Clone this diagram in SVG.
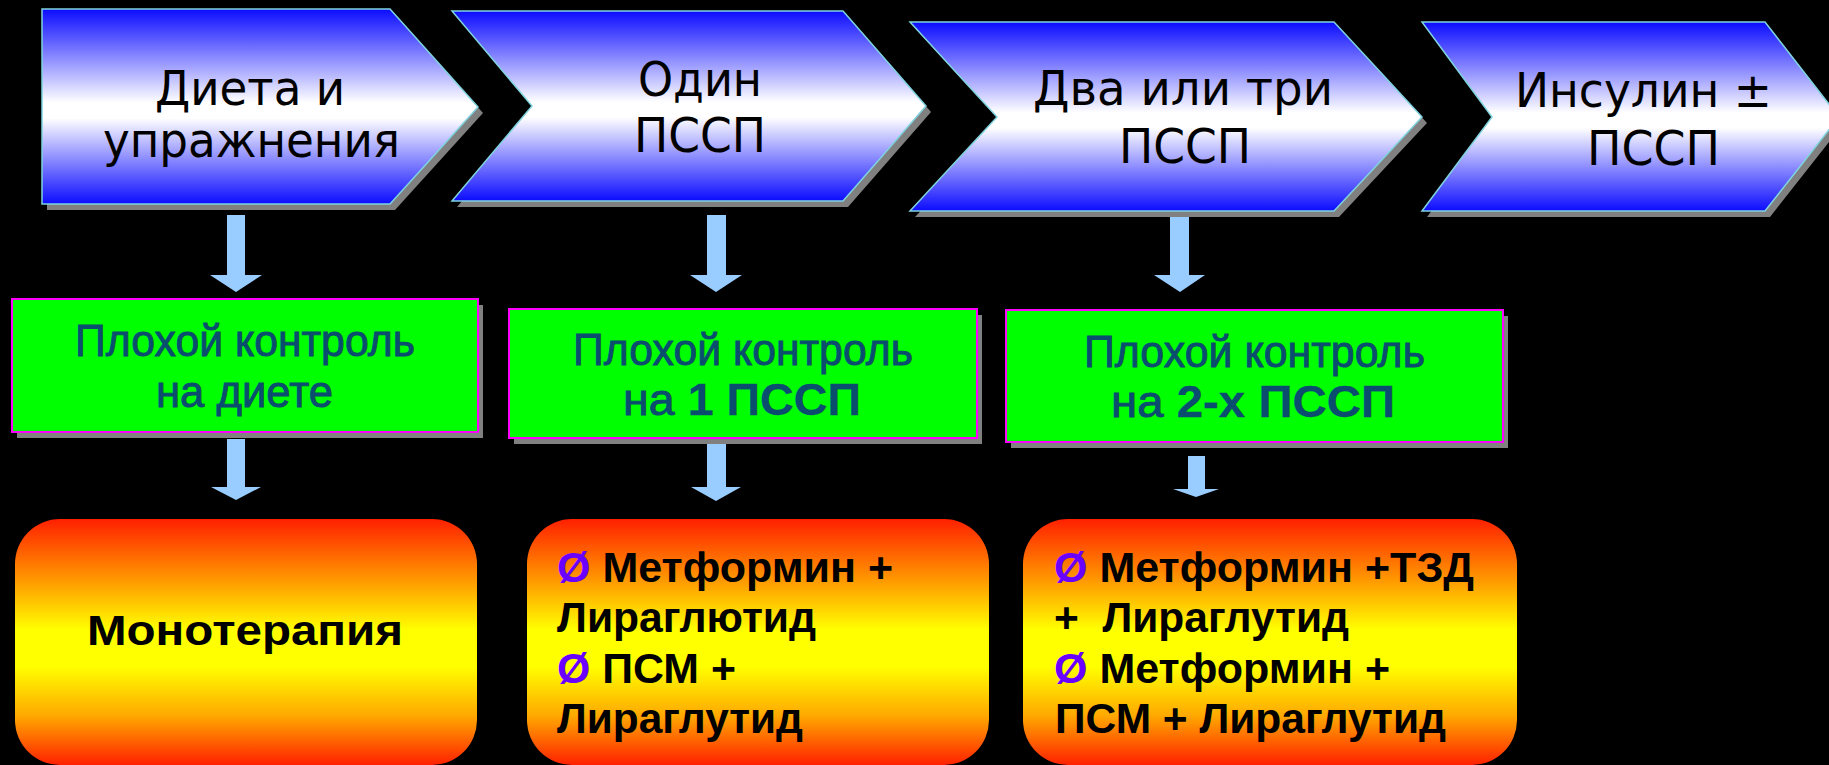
<svg xmlns="http://www.w3.org/2000/svg" width="1829" height="765" viewBox="0 0 1829 765">
  <defs>
    <linearGradient id="gBlue" x1="0" y1="0" x2="0" y2="1">
      <stop offset="0" stop-color="#0c0cff"/>
      <stop offset="0.48" stop-color="#ffffff"/>
      <stop offset="0.56" stop-color="#ffffff"/>
      <stop offset="1" stop-color="#0c0cff"/>
    </linearGradient>
    <linearGradient id="gFire" x1="0" y1="0" x2="0" y2="1">
      <stop offset="0" stop-color="#ff2000"/>
      <stop offset="0.28" stop-color="#ffa800"/>
      <stop offset="0.45" stop-color="#ffff00"/>
      <stop offset="0.6" stop-color="#ffff00"/>
      <stop offset="0.8" stop-color="#ffa800"/>
      <stop offset="1" stop-color="#ff2000"/>
    </linearGradient>
  </defs>
  <style>
    .shadow { fill: #808080; }
    .chev { fill: url(#gBlue); stroke: #7fd3de; stroke-width: 1.5; }
    .chevText { font-family: "DejaVu Sans", "Liberation Sans", sans-serif; font-size: 48px; fill: #000000; }
    .green { fill: #00ff00; stroke: #ff00ff; stroke-width: 2; }
    .greenText { font-family: "Liberation Sans", Arial, sans-serif; font-size: 45px; fill: #0a4d6e; stroke: #0a4d6e; stroke-width: 0.9; }
    .b { font-weight: bold; stroke-width: 0.3; }
    .fire { fill: url(#gFire); }
    .fireText { font-family: "Liberation Sans", Arial, sans-serif; font-size: 42px; font-weight: bold; fill: #000000; }
    .bullet { fill: #6a00ff; }
    .arrow { fill: #99ccff; }
  </style>

  <rect x="0" y="0" width="1829" height="765" fill="#000000"/>

  <!-- stage chevrons -->
  <g id="stage-diet">
    <polygon class="shadow" points="47,15 395,15 483,113 395,210 47,210"/>
    <polygon class="chev" points="42,9 390,9 478,107 390,204 42,204"/>
    <text class="chevText" x="155" y="105" textLength="190" lengthAdjust="spacingAndGlyphs">Диета и</text>
    <text class="chevText" x="103" y="157" textLength="297" lengthAdjust="spacingAndGlyphs">упражнения</text>
  </g>
  <g id="stage-one">
    <polygon class="shadow" points="457,17 848,17 931,112 848,207 457,207 537,112"/>
    <polygon class="chev" points="452,11 843,11 926,106 843,201 452,201 532,106"/>
    <text class="chevText" x="638" y="96" textLength="124" lengthAdjust="spacingAndGlyphs">Один</text>
    <text class="chevText" x="634" y="152" textLength="132" lengthAdjust="spacingAndGlyphs">ПССП</text>
  </g>
  <g id="stage-two-three">
    <polygon class="shadow" points="915,28 1339,28 1427,123 1339,217 915,217 1002,123"/>
    <polygon class="chev" points="910,22 1334,22 1422,117 1334,211 910,211 997,117"/>
    <text class="chevText" x="1033" y="105" textLength="300" lengthAdjust="spacingAndGlyphs">Два или три</text>
    <text class="chevText" x="1119" y="163" textLength="132" lengthAdjust="spacingAndGlyphs">ПССП</text>
  </g>
  <g id="stage-insulin">
    <polygon class="shadow" points="1427,28 1770,28 1844,123 1770,217 1427,217 1497,123"/>
    <polygon class="chev" points="1422,22 1765,22 1839,117 1765,211 1422,211 1492,117"/>
    <text class="chevText" x="1515" y="107" textLength="257" lengthAdjust="spacingAndGlyphs">Инсулин ±</text>
    <text class="chevText" x="1587" y="165" textLength="133" lengthAdjust="spacingAndGlyphs">ПССП</text>
  </g>

  <!-- poor-control boxes -->
  <g id="fail-diet">
    <rect class="shadow" x="17" y="305" width="466" height="133"/>
    <rect class="green" x="12" y="299" width="466" height="133"/>
    <text class="greenText" x="75" y="356" textLength="340" lengthAdjust="spacingAndGlyphs">Плохой контроль</text>
    <text class="greenText" x="156" y="407" textLength="177" lengthAdjust="spacingAndGlyphs">на диете</text>
  </g>
  <g id="fail-one">
    <rect class="shadow" x="514" y="315" width="468" height="129"/>
    <rect class="green" x="509" y="309" width="468" height="129"/>
    <text class="greenText" x="573" y="365" textLength="340" lengthAdjust="spacingAndGlyphs">Плохой контроль</text>
    <text class="greenText" x="623" y="415" textLength="238" lengthAdjust="spacingAndGlyphs">на <tspan class="b">1 ПССП</tspan></text>
  </g>
  <g id="fail-two">
    <rect class="shadow" x="1011" y="316" width="497" height="132"/>
    <rect class="green" x="1006" y="310" width="497" height="132"/>
    <text class="greenText" x="1084" y="367" textLength="341" lengthAdjust="spacingAndGlyphs">Плохой контроль</text>
    <text class="greenText" x="1111" y="417" textLength="284" lengthAdjust="spacingAndGlyphs">на <tspan class="b">2-х ПССП</tspan></text>
  </g>

  <!-- therapy boxes -->
  <g id="therapy-mono">
    <rect class="fire" x="15" y="519" width="462" height="246" rx="45" ry="45"/>
    <text class="fireText" x="87" y="645" font-size="49" textLength="316" lengthAdjust="spacingAndGlyphs">Монотерапия</text>
  </g>
  <g id="therapy-dual">
    <rect class="fire" x="527" y="519" width="462" height="246" rx="45" ry="45"/>
    <text class="fireText" x="557" y="582" textLength="336" lengthAdjust="spacingAndGlyphs"><tspan class="bullet">Ø</tspan> Метформин +</text>
    <text class="fireText" x="557" y="632" textLength="259" lengthAdjust="spacingAndGlyphs">Лираглютид</text>
    <text class="fireText" x="557" y="683" textLength="179" lengthAdjust="spacingAndGlyphs"><tspan class="bullet">Ø</tspan> ПСМ +</text>
    <text class="fireText" x="557" y="733" textLength="246" lengthAdjust="spacingAndGlyphs">Лираглутид</text>
  </g>
  <g id="therapy-triple">
    <rect class="fire" x="1023" y="519" width="494" height="246" rx="45" ry="45"/>
    <text class="fireText" x="1054" y="582" textLength="420" lengthAdjust="spacingAndGlyphs"><tspan class="bullet">Ø</tspan> Метформин +ТЗД</text>
    <text class="fireText" x="1054" y="632" textLength="295" lengthAdjust="spacingAndGlyphs" xml:space="preserve">+  Лираглутид</text>
    <text class="fireText" x="1054" y="683" textLength="336" lengthAdjust="spacingAndGlyphs"><tspan class="bullet">Ø</tspan> Метформин +</text>
    <text class="fireText" x="1055" y="733" textLength="391" lengthAdjust="spacingAndGlyphs">ПСМ + Лираглутид</text>
  </g>

  <!-- down arrows -->
  <g id="connectors">
    <polygon class="arrow" points="227,215 245,215 245,275 262,275 236,292 210,275 227,275"/>
    <polygon class="arrow" points="227,439 245,439 245,487 261,487 236,500 211,487 227,487"/>
    <polygon class="arrow" points="707,215 726,215 726,275 742,275 716,292 690,275 707,275"/>
    <polygon class="arrow" points="707,444 726,444 726,487 741,487 716,501 691,487 707,487"/>
    <polygon class="arrow" points="1170,217 1189,217 1189,275 1205,275 1180,292 1154,275 1170,275"/>
    <polygon class="arrow" points="1188,456 1205,456 1205,489 1219,489 1196,497 1173,489 1188,489"/>
  </g>
</svg>
